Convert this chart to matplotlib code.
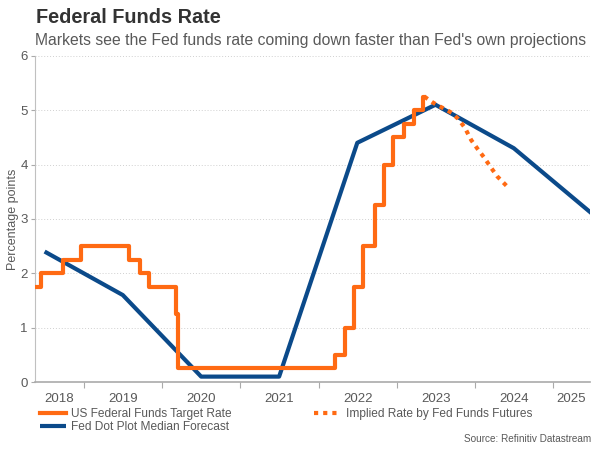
import pandas as pd
import matplotlib
matplotlib.use("Agg")
import matplotlib.pyplot as plt

plt.rcParams['font.family'] = ['Liberation Sans', 'DejaVu Sans']

# US Federal Funds target rate (upper bound), step changes
target_dates = ["2018-03-22", "2018-06-14", "2018-09-27", "2018-12-20", "2019-08-01",
                "2019-09-19", "2019-10-31", "2020-03-04", "2020-03-16", "2022-03-17",
                "2022-05-05", "2022-06-16", "2022-07-28", "2022-09-22", "2022-11-03",
                "2022-12-15", "2023-02-02", "2023-03-23", "2023-05-04", "2023-05-10"]
target_rate = [1.75, 2.00, 2.25, 2.50, 2.25, 2.00, 1.75, 1.25, 0.25, 0.50,
               1.00, 1.75, 2.50, 3.25, 4.00, 4.50, 4.75, 5.00, 5.25, 5.25]

# Implied rate by fed funds futures
futures_dates = ["2023-05-10", "2023-06-15", "2023-07-15", "2023-08-15", "2023-09-15",
                 "2023-10-15", "2023-11-15", "2023-12-15", "2024-01-15", "2024-02-15",
                 "2024-03-15", "2024-04-15", "2024-05-30"]
futures_rate = [5.25, 5.15, 5.08, 5.02, 4.95, 4.84, 4.68, 4.45, 4.28, 4.12, 3.95, 3.78, 3.60]

# Fed dot plot median forecast
dot_dates = ["2018-07-01", "2019-07-01", "2020-07-01", "2021-07-01",
             "2022-07-01", "2023-07-01", "2024-07-01", "2025-07-01"]
dot_rate = [2.4, 1.6, 0.1, 0.1, 4.4, 5.1, 4.3, 3.1]

years = [2018, 2019, 2020, 2021, 2022, 2023, 2024, 2025]


def to_year(dates):
    d = pd.to_datetime(pd.Series(dates))
    return (d.dt.year + (d.dt.dayofyear - 1) / 365.25).to_numpy()


orange = '#ff6a13'
blue = '#0b4a8a'
grey = '#595959'

fig = plt.figure(figsize=(6, 4.5), dpi=100)
ax = fig.add_axes([0.058, 0.151, 0.925, 0.725])

x_min, x_max = 2018.37, 2025.47

ax.step(to_year(target_dates), target_rate, where='post', color=orange, lw=3,
        label="US Federal Funds Target Rate", zorder=3)
ax.plot(to_year(dot_dates), dot_rate, color=blue, lw=3, solid_capstyle='butt',
        label="Fed Dot Plot Median Forecast", zorder=2)
ax.plot(to_year(futures_dates), futures_rate, color=orange, lw=3,
        linestyle=(0, (1, 1.2)), dash_capstyle='butt',
        label="Implied Rate by Fed Funds Futures", zorder=3)

ax.set_xlim(x_min, x_max)
ax.set_ylim(0, 6)

# major ticks at year starts, labels centred in the visible part of each year
ax.set_xticks(years[1:])
ax.set_xticklabels([])
label_pos = [(max(y, x_min) + min(y + 1, x_max)) / 2 for y in years]
ax.set_xticks(label_pos, minor=True)
ax.set_xticklabels([str(y) for y in years], minor=True)
ax.tick_params(axis='x', which='minor', length=0, pad=8, labelsize=9.5, labelcolor=grey)
ax.tick_params(axis='x', which='major', length=4, color='#aaaaaa')

ax.set_yticks(range(0, 7))
ax.tick_params(axis='y', length=3, color='#aaaaaa', labelsize=9.5, labelcolor=grey, pad=2)
ax.set_ylabel("Percentage points", fontsize=9, color=grey, labelpad=1)

for y in range(1, 7):
    ax.axhline(y, color='#d0d0d0', lw=0.7, linestyle=(0, (1, 2)), zorder=0)

for s in ['top', 'right']:
    ax.spines[s].set_visible(False)
ax.spines['left'].set_color('#c0c0c0')
ax.spines['bottom'].set_color('#aaaaaa')
ax.spines['bottom'].set_linewidth(1.2)

fig.text(0.06, 0.962, "Federal Funds Rate", fontsize=14.3, fontweight='bold',
         color='#333333', va='center')
fig.text(0.058, 0.91, "Markets see the Fed funds rate coming down faster than Fed's own projections",
         fontsize=11.3, color=grey, va='center')

handles, labels = ax.get_legend_handles_labels()
fig.legend(handles, labels,
           loc='upper left', bbox_to_anchor=(0.066, 0.094), ncol=2,
           frameon=False, fontsize=8.6, labelcolor=grey, handlelength=2.2,
           handletextpad=0.45, columnspacing=6.9, labelspacing=0.12,
           borderaxespad=0, borderpad=0)

fig.text(0.986, 0.018, "Source: Refinitiv Datastream", fontsize=7.2, color=grey, ha='right')

fig.savefig("out.png", dpi=100)
